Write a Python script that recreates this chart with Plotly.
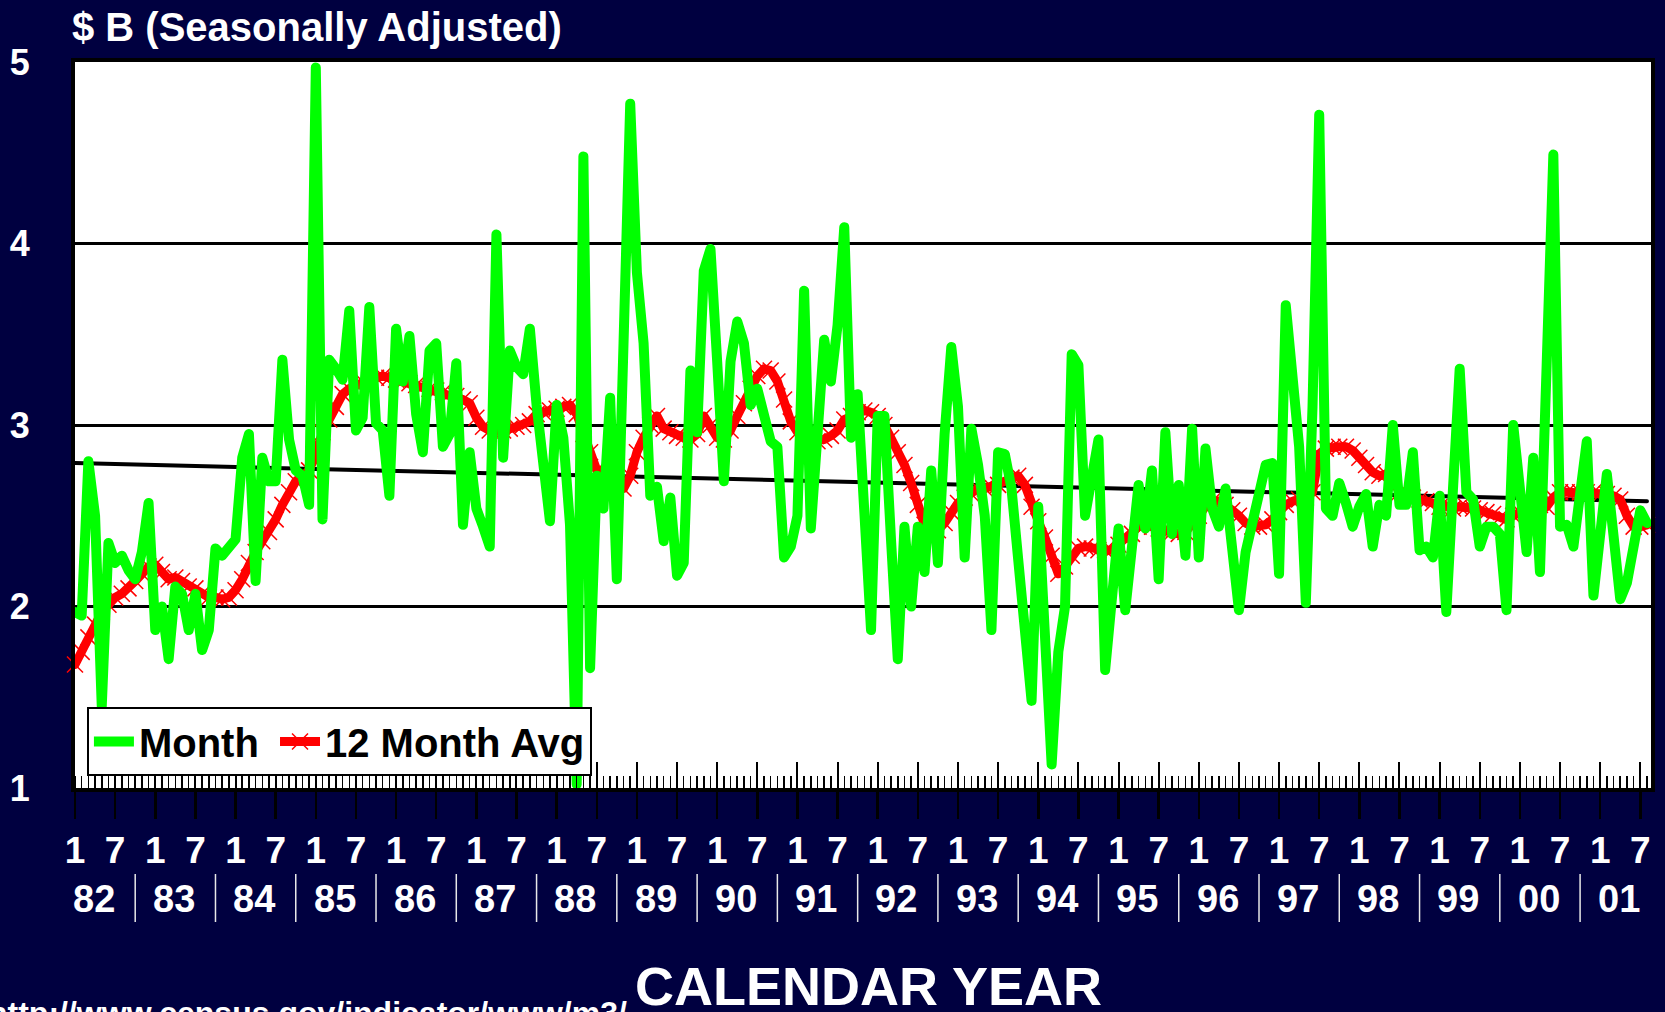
import plotly.graph_objects as go

# ---------------- data ----------------
# Monthly index: 0 = Jan 1982 ... 235 = Aug 2001
months = list(range(236))

month_values = [
    1.97, 1.95, 2.80, 2.50, 1.45, 2.35, 2.24, 2.28, 2.20, 2.15, 2.30, 2.57,  # 1982
    1.87, 2.00, 1.71, 2.11, 2.07, 1.87, 2.07, 1.76, 1.87, 2.32, 2.28, 2.33,  # 1983
    2.37, 2.82, 2.95, 2.14, 2.82, 2.69, 2.69, 3.36, 2.92, 2.75, 2.72, 2.56,  # 1984
    4.97, 2.48, 3.36, 3.31, 3.25, 3.63, 2.97, 3.04, 3.65, 3.01, 2.97, 2.61,  # 1985
    3.53, 3.24, 3.49, 3.06, 2.85, 3.41, 3.45, 2.88, 2.95, 3.34, 2.45, 2.85,  # 1986
    2.54, 2.44, 2.33, 4.05, 2.82, 3.41, 3.32, 3.28, 3.53, 3.11, 2.75, 2.47,  # 1987
    3.11, 2.93, 2.45, 1.02, 4.48, 1.66, 2.72, 2.54, 3.15, 2.15, 3.45, 4.77,  # 1988
    3.84, 3.45, 2.61, 2.66, 2.36, 2.60, 2.17, 2.24, 3.30, 2.96, 3.85, 3.97,  # 1989
    3.35, 2.69, 3.35, 3.57, 3.45, 3.11, 3.20, 3.06, 2.91, 2.88, 2.27, 2.33,  # 1990
    2.50, 3.74, 2.43, 2.95, 3.47, 3.24, 3.55, 4.09, 2.93, 3.17, 2.50, 1.87,  # 1991
    3.05, 3.05, 2.36, 1.71, 2.44, 2.00, 2.44, 2.19, 2.75, 2.24, 2.95, 3.43,  # 1992
    3.10, 2.27, 2.98, 2.78, 2.50, 1.87, 2.85, 2.84, 2.65, 2.25, 1.85, 1.48,  # 1993
    2.55, 1.85, 1.13, 1.75, 2.00, 3.39, 3.33, 2.50, 2.70, 2.92, 1.65, 2.05,  # 1994
    2.43, 1.98, 2.33, 2.67, 2.43, 2.75, 2.15, 2.96, 2.40, 2.67, 2.28, 2.98,  # 1995
    2.27, 2.87, 2.54, 2.44, 2.65, 2.31, 1.98, 2.30, 2.45, 2.65, 2.78, 2.79,  # 1996
    2.18, 3.66, 3.20, 2.88, 2.02, 3.10, 4.71, 2.54, 2.50, 2.68, 2.57, 2.44,  # 1997
    2.55, 2.62, 2.33, 2.56, 2.50, 3.00, 2.56, 2.56, 2.85, 2.31, 2.33, 2.27,  # 1998
    2.61, 1.97, 2.65, 3.31, 2.63, 2.59, 2.33, 2.44, 2.44, 2.40, 1.98, 3.00,  # 1999
    2.65, 2.30, 2.82, 2.19, 3.33, 4.49, 2.44, 2.45, 2.33, 2.65, 2.91, 2.06,  # 2000
    2.44, 2.73, 2.39, 2.04, 2.13, 2.31, 2.53, 2.46,                          # 2001
]

avg_values = [
    1.68, 1.75, 1.83, 1.90, 1.97, 2.01, 2.05, 2.07, 2.10, 2.14, 2.18, 2.22,  # 1982
    2.23, 2.19, 2.15, 2.16, 2.14, 2.11, 2.10, 2.07, 2.05, 2.05, 2.04, 2.05,  # 1983
    2.09, 2.15, 2.24, 2.30, 2.36, 2.41, 2.48, 2.56, 2.63, 2.69, 2.72, 2.75,  # 1984
    2.84, 2.96, 3.03, 3.10, 3.17, 3.20, 3.22, 3.24, 3.25, 3.26, 3.27, 3.26,  # 1985
    3.25, 3.24, 3.23, 3.22, 3.21, 3.20, 3.19, 3.18, 3.17, 3.16, 3.14, 3.12,  # 1986
    3.04, 2.99, 2.97, 2.97, 2.97, 2.98, 2.99, 3.00, 3.02, 3.06, 3.07, 3.08,  # 1987
    3.09, 3.10, 3.11, 3.06, 2.95, 2.85, 2.75, 2.74, 2.71, 2.68, 2.65, 2.72,  # 1988
    2.85, 2.93, 3.00, 3.05, 2.98, 2.96, 2.94, 2.93, 2.92, 2.95, 3.05, 3.00,  # 1989
    2.93, 2.92, 2.97, 3.05, 3.12, 3.20, 3.27, 3.31, 3.30, 3.24, 3.14, 3.02,  # 1990
    2.96, 2.92, 2.91, 2.91, 2.92, 2.94, 2.97, 3.03, 3.05, 3.07, 3.08, 3.07,  # 1991
    3.05, 3.00, 2.93, 2.85, 2.78, 2.68, 2.56, 2.45, 2.42, 2.42, 2.46, 2.52,  # 1992
    2.57, 2.60, 2.62, 2.65, 2.65, 2.66, 2.67, 2.69, 2.71, 2.72, 2.67, 2.55,  # 1993
    2.47, 2.38, 2.28, 2.18, 2.22, 2.28, 2.32, 2.33, 2.32, 2.31, 2.31, 2.31,  # 1994
    2.34, 2.37, 2.40, 2.44, 2.45, 2.44, 2.43, 2.42, 2.41, 2.40, 2.41, 2.45,  # 1995
    2.50, 2.55, 2.58, 2.58, 2.56, 2.53, 2.50, 2.46, 2.44, 2.44, 2.45, 2.48,  # 1996
    2.52, 2.56, 2.58, 2.59, 2.60, 2.63, 2.84, 2.87, 2.88, 2.88, 2.88, 2.86,  # 1997
    2.82, 2.78, 2.74, 2.72, 2.73, 2.68, 2.63, 2.60, 2.60, 2.59, 2.58, 2.57,  # 1998
    2.55, 2.54, 2.54, 2.55, 2.55, 2.54, 2.53, 2.52, 2.51, 2.49, 2.48, 2.50,  # 1999
    2.52, 2.56, 2.57, 2.56, 2.55, 2.60, 2.63, 2.63, 2.63, 2.63, 2.63, 2.63,  # 2000
    2.62, 2.62, 2.61, 2.59, 2.50, 2.44, 2.44, 2.45,                          # 2001
]

# linear trend line end points
trend_x = [0, 235]
trend_y = [2.79, 2.58]

# axis labels
tick_months = list(range(0, 235, 6))          # Jan / Jul of each year
tick_text = ["1", "7"] * 20
year_labels = ["82", "83", "84", "85", "86", "87", "88", "89", "90", "91",
               "92", "93", "94", "95", "96", "97", "98", "99", "00", "01"]
y_ticks = [1, 2, 3, 4, 5]

title_text = "$ B (Seasonally Adjusted)"
xtitle_text = "CALENDAR YEAR"
url_text = "http://www.census.gov/indicator/www/m3/"

# ---------------- styling ----------------
FONT = "Liberation Sans, Arial, sans-serif"
NAVY = "#000040"
GREEN = "#00FF00"
RED = "#FF0000"

W, H = 1665, 1012
L, R, T, B = 70, 10, 62, 224
plot_h = H - T - B
XMAX = 235.6


def py(pix):
    """pixel row -> paper y"""
    return (H - B - pix) / plot_h


def px(pix):
    """pixel column -> paper x"""
    return (pix - L) / (W - L - R)


fig = go.Figure()

fig.add_trace(go.Scatter(
    x=trend_x, y=trend_y, mode="lines",
    line=dict(color="black", width=4),
    showlegend=False, hoverinfo="skip"))

fig.add_trace(go.Scatter(
    x=months, y=avg_values, mode="lines+markers",
    name="<b>12 Month Avg</b>", legendrank=2,
    line=dict(color=RED, width=9),
    marker=dict(symbol="x-thin", size=16, color=RED,
                line=dict(color=RED, width=1.5)),
    cliponaxis=False, hoverinfo="skip"))

fig.add_trace(go.Scatter(
    x=months, y=month_values, mode="lines",
    name="<b>Month</b>&nbsp;", legendrank=1,
    line=dict(color=GREEN, width=10),
    hoverinfo="skip"))

# invisible trace carrying the second (tick-only) x axis
fig.add_trace(go.Scatter(
    x=[0, 235], y=[None, None], xaxis="x2", mode="lines",
    showlegend=False, hoverinfo="skip"))

annotations = [
    dict(text=title_text, xref="paper", yref="paper", x=px(65), y=py(27),
         xanchor="left", yanchor="middle", showarrow=False,
         font=dict(family=FONT, size=40, color="white", weight="bold")),
    dict(text=xtitle_text, xref="paper", yref="paper", x=px(868), y=py(986),
         xanchor="center", yanchor="middle", showarrow=False,
         font=dict(family=FONT, size=54, color="white", weight="bold")),
    dict(text=url_text, xref="paper", yref="paper", x=px(627), y=py(1013),
         xanchor="right", yanchor="middle", showarrow=False,
         font=dict(family=FONT, size=32, color="white", weight="bold")),
]
for i, lab in enumerate(year_labels):
    annotations.append(dict(
        text=lab, xref="x", yref="paper", x=12 * i + 2.8, y=py(899),
        xanchor="center", yanchor="middle", showarrow=False,
        font=dict(family=FONT, size=38, color="white", weight="bold")))

shapes = []
for i in range(len(year_labels) - 1):
    xs = 12 * i + 9
    shapes.append(dict(type="line", xref="x", yref="paper",
                       x0=xs, x1=xs, y0=py(874), y1=py(922),
                       line=dict(color="#E8E8E8", width=1.5)))

fig.update_layout(
    width=W, height=H,
    paper_bgcolor=NAVY, plot_bgcolor="white",
    margin=dict(l=L, r=R, t=T, b=B, pad=0),
    hovermode=False,
    showlegend=True,
    xaxis=dict(
        range=[0, XMAX], tickmode="array", tickvals=tick_months, ticktext=tick_text,
        ticks="outside", ticklen=27, tickwidth=2.5, tickcolor="black",
        showgrid=False, zeroline=False,
        showline=True, linecolor="black", linewidth=4, mirror=True,
        tickfont=dict(family=FONT, size=37, color="white", weight="bold"),
        ticklabelstandoff=0,
        minor=dict(tickmode="array", tickvals=months, ticks="inside",
                   ticklen=12, tickwidth=1.5, tickcolor="black", showgrid=False),
    ),
    xaxis2=dict(
        overlaying="x", anchor="y", side="bottom", range=[0, XMAX],
        tickmode="array", tickvals=tick_months, ticks="inside", ticklen=26,
        tickwidth=2, tickcolor="black", showticklabels=False,
        showgrid=False, zeroline=False, showline=False,
    ),
    yaxis=dict(
        range=[1, 5], tickmode="array", tickvals=y_ticks,
        showgrid=True, gridcolor="black", gridwidth=3, zeroline=False,
        ticks="", showline=True, linecolor="black", linewidth=4, mirror=True,
        tickfont=dict(family=FONT, size=36, color="white", weight="bold"),
        ticklabelstandoff=34,
    ),
    legend=dict(
        orientation="h", x=px(82), y=py(776), xanchor="left", yanchor="bottom",
        bgcolor="white", bordercolor="black", borderwidth=2,
        font=dict(family=FONT, size=40, color="black"),
        itemwidth=40,
    ),
    annotations=annotations,
    shapes=shapes,
)

page_css = (
    "var s=document.createElement('style');"
    "s.innerHTML='html,body{margin:0 !important;padding:0 !important;"
    "background:#000040;overflow:hidden;}"
    " .scatterlayer .js-line{stroke-linejoin:round !important;"
    "stroke-linecap:round !important;}';"
    "document.head.appendChild(s);"
)

fig.write_html("out.html", post_script=page_css,
               config={"displayModeBar": False, "staticPlot": True})
